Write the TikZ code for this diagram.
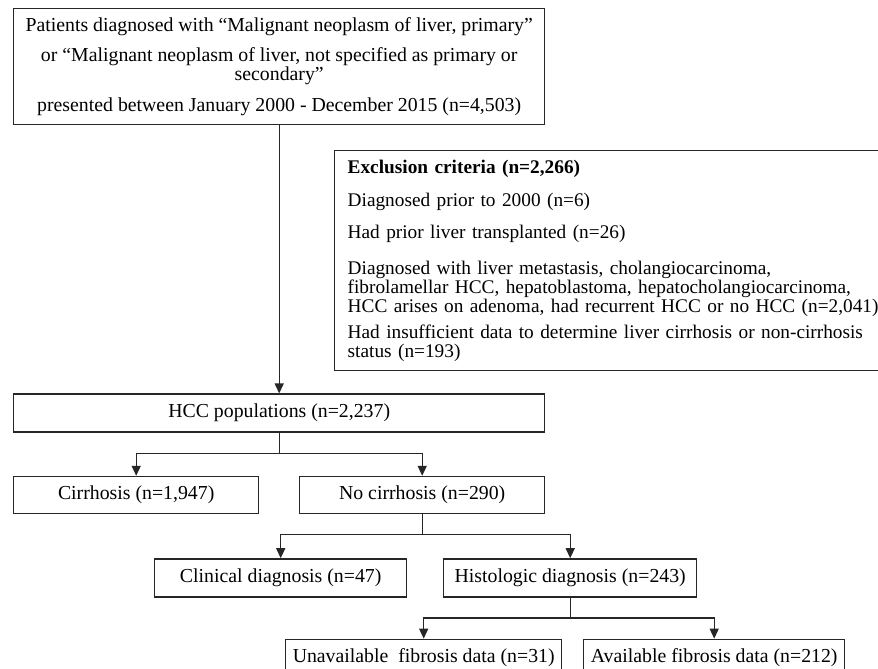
\documentclass[tikz,border=0pt]{standalone}
\usepackage{fontspec}
\setmainfont{Liberation Serif}
\usetikzlibrary{positioning,arrows.meta}
\newcommand\boxfont{\fontsize{19.8pt}{19pt}\selectfont}
\newcommand\exclfont{\fontsize{19.3pt}{19pt}\selectfont}
\tikzset{
  box/.style  = {rectangle, draw=black!85, line width=1.4pt, align=center,
                 inner sep=0pt, minimum height=37pt, font=\boxfont},
  wide/.style = {minimum width=531pt},
  flow/.style = {-{Triangle[length=10pt,width=9pt]}, line width=1.4pt, black!85},
}
\begin{document}
\begin{tikzpicture}[x=1pt, y=1pt]
  \path[use as bounding box, fill=white] (0,0) rectangle (878,-669);

  \node[box, wide, minimum height=116pt, anchor=north west] (src) at (13,-8)
       {Patients diagnosed with “Malignant neoplasm of liver, primary”\\[11pt]
        or “Malignant neoplasm of liver, not specified as primary or\\
        secondary”\\[12.5pt]
        presented between January 2000 - December 2015 (n=4,503)};

  \node[box, anchor=north west, align=left, text width=570pt, inner xsep=13pt,
        minimum height=220pt, font=\exclfont] (excl) at (334,-150)
       {\textbf{Exclusion criteria (n=2,266)}\\[14pt]
        Diagnosed prior to 2000 (n=6)\\[13pt]
        Had prior liver transplanted (n=26)\\[17pt]
        Diagnosed with liver metastasis, cholangiocarcinoma,\\
        fibrolamellar HCC, hepatoblastoma, hepatocholangiocarcinoma,\\
        HCC arises on adenoma, had recurrent HCC or no HCC (n=2,041)\\[7pt]
        Had insufficient data to determine liver cirrhosis or non-cirrhosis\\
        status (n=193)};

  \node[box, wide, minimum height=38pt, below=268pt of src] (hcc) {HCC populations (n=2,237)};

  \node[box, minimum width=245pt, below right=43pt and 0pt of hcc.south west] (cirr) {Cirrhosis (n=1,947)};
  \node[box, minimum width=245pt, below left=43pt and 0pt of hcc.south east] (nocirr) {No cirrhosis (n=290)};

  \node[box, minimum width=252pt, minimum height=38pt, below=44pt of nocirr, xshift=-141.5pt] (clin) {Clinical diagnosis (n=47)};
  \node[box, minimum width=253pt, minimum height=38pt, below=44pt of nocirr, xshift=148pt] (hist) {Histologic diagnosis (n=243)};

  \node[box, minimum width=276pt, below=41pt of hist, xshift=-146.5pt] (unav) {Unavailable\ \ fibrosis data (n=31)};
  \node[box, minimum width=261pt, below=41pt of hist, xshift=144pt] (avail) {Available fibrosis data (n=212)};

  \draw[flow] (src) -- (hcc);
  \foreach \a/\b in {hcc/cirr, hcc/nocirr, nocirr/clin, nocirr/hist, hist/unav, hist/avail} {
    \draw[flow] (\a.south) -- ++(0,-20.5) -| (\b);
  }
\end{tikzpicture}
\end{document}
